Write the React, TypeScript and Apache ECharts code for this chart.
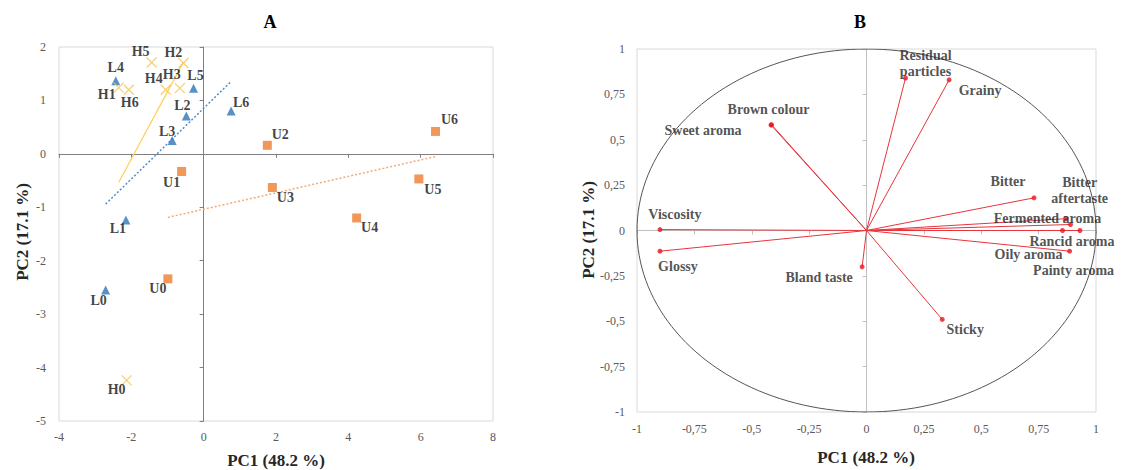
import React, { useEffect, useRef } from 'react';
import * as echarts from 'echarts';

// ---------- Panel A: PCA scores ----------
const L_NAMES = ['L0', 'L1', 'L2', 'L3', 'L4', 'L5', 'L6'];
const L_PC1 = [-2.71, -2.15, -0.48, -0.87, -2.43, -0.28, 0.76];
const L_PC2 = [-2.55, -1.24, 0.71, 0.25, 1.37, 1.23, 0.8];

const U_NAMES = ['U0', 'U1', 'U2', 'U3', 'U4', 'U5', 'U6'];
const U_PC1 = [-0.99, -0.61, 1.76, 1.9, 4.23, 5.95, 6.41];
const U_PC2 = [-2.34, -0.33, 0.16, -0.63, -1.2, -0.47, 0.42];

const H_NAMES = ['H0', 'H1', 'H2', 'H3', 'H4', 'H5', 'H6'];
const H_PC1 = [-2.13, -2.35, -0.56, -0.66, -1.05, -1.44, -2.07];
const H_PC2 = [-4.24, 1.24, 1.7, 1.23, 1.2, 1.71, 1.2];

const A_X_TICKS = { min: -4, max: 8, interval: 2 };
const A_Y_TICKS = { min: -5, max: 2, interval: 1 };

// ---------- Panel B: loadings ----------
const VAR_NAMES = [
  'Residual\nparticles', 'Grainy', 'Brown colour', 'Sweet aroma', 'Viscosity', 'Glossy',
  'Bland taste', 'Sticky', 'Bitter', 'Bitter\naftertaste', 'Fermented aroma',
  'Rancid aroma', 'Oily aroma', 'Painty aroma',
];
const VAR_PC1 = [0.17, 0.36, -0.414, -0.416, -0.9, -0.9, -0.019, 0.33, 0.73, 0.868, 0.889, 0.93, 0.854, 0.885];
const VAR_PC2 = [0.84, 0.83, 0.583, 0.581, 0.005, -0.114, -0.2, -0.49, 0.18, 0.065, 0.033, 0.0, 0.0, -0.114];

const B_TICKS = { min: -1, max: 1, interval: 0.25 };

// label offsets (pixels, label centre relative to the marker)
const A_LABEL_OFFSETS: Record<string, [number, number]> = {
  L0: [-7, 10], L1: [-8, 8], L2: [-4, -10], L3: [-5, -9], L4: [0, -13], L5: [2, -13], L6: [10, -9],
  U0: [-10, 10], U1: [-10, 11], U2: [13, -11], U3: [13, 10], U4: [13, 10], U5: [14, 11], U6: [14, -12],
  H0: [-10, 9], H1: [-12, 7], H2: [-10, -11], H3: [-8, -14], H4: [-12, -11], H5: [-11, -11], H6: [1, 13],
};
const B_LABEL_OFFSETS: [number, number][] = [
  [20, -15], [31, 11], [-3, -15], [-68, 5], [15, -15], [18, 15], [-43, 11], [23, 10],
  [-26, -16], [14, -28], [-23, -6], [-8, 11], [-34, 24], [4, 19],
];

const SERIF = '"Liberation Serif", "Times New Roman", serif';

function regressionEnds(xs: number[], ys: number[]): number[][] {
  const n = xs.length;
  const mx = xs.reduce((a, b) => a + b, 0) / n;
  const my = ys.reduce((a, b) => a + b, 0) / n;
  let sxy = 0;
  let sxx = 0;
  for (let i = 0; i < n; i++) {
    sxy += (xs[i] - mx) * (ys[i] - my);
    sxx += (xs[i] - mx) * (xs[i] - mx);
  }
  const b = sxy / sxx;
  const a = my - b * mx;
  const x0 = Math.min(...xs);
  const x1 = Math.max(...xs);
  return [[x0, a + b * x0], [x1, a + b * x1]];
}

function scoreSeries(names: string[], xs: number[], ys: number[], symbol: string, size: number, itemStyle: any) {
  return {
    type: 'scatter',
    xAxisIndex: 0,
    yAxisIndex: 0,
    symbol,
    symbolSize: size,
    itemStyle,
    z: 5,
    data: names.map((n, i) => ({
      name: n,
      value: [xs[i], ys[i]],
      label: { offset: A_LABEL_OFFSETS[n] },
    })),
    label: {
      show: true,
      position: 'inside',
      formatter: (p: any) => p.name,
      fontFamily: SERIF,
      fontWeight: 'bold',
      fontSize: 14,
      color: '#111',
    },
  };
}

export default function App() {
  const ref = useRef<HTMLDivElement>(null);
  useEffect(() => {
    if (!ref.current) return;
    const chart = echarts.init(ref.current, null, { renderer: 'svg' });

    const circle: number[][] = [];
    for (let k = 0; k <= 360; k += 2) {
      const t = (k * Math.PI) / 180;
      circle.push([Math.cos(t), Math.sin(t)]);
    }

    const commaFmt = (v: number) => String(v).replace('.', ',');
    const tickLabel = { fontFamily: SERIF, fontSize: 12, color: '#595959' };

    const option: any = {
      animation: false,
      backgroundColor: '#fff',
      grid: [
        { left: 59, top: 47, width: 434, height: 374, show: true, borderColor: '#d9d9d9', borderWidth: 1 },
        { left: 637, top: 49, width: 459, height: 363, show: true, borderColor: '#d9d9d9', borderWidth: 1 },
      ],
      xAxis: [
        {
          type: 'value', gridIndex: 0, position: 'bottom', ...A_X_TICKS,
          axisLine: { show: false, onZero: false }, axisTick: { show: false }, splitLine: { show: false },
          axisLabel: { ...tickLabel, margin: 10 },
        },
        {
          type: 'value', gridIndex: 1, position: 'bottom', ...B_TICKS,
          axisLine: { show: false, onZero: false }, axisTick: { show: false }, splitLine: { show: false },
          axisLabel: { ...tickLabel, margin: 11, formatter: commaFmt },
        },
        {
          type: 'value', gridIndex: 0, position: 'bottom', ...A_X_TICKS,
          axisLine: { show: true, onZero: true, onZeroAxisIndex: 0, lineStyle: { color: '#7f7f7f', width: 1 } },
          axisTick: { show: true, length: 4, lineStyle: { color: '#7f7f7f' } },
          axisLabel: { show: false }, splitLine: { show: false },
        },
        {
          type: 'value', gridIndex: 1, position: 'bottom', ...B_TICKS,
          axisLine: { show: true, onZero: true, onZeroAxisIndex: 1, lineStyle: { color: '#bfbfbf', width: 1 } },
          axisTick: { show: true, length: 4, lineStyle: { color: '#bfbfbf' } },
          axisLabel: { show: false }, splitLine: { show: false },
        },
      ],
      yAxis: [
        {
          type: 'value', gridIndex: 0, position: 'left', ...A_Y_TICKS,
          axisLine: { show: false, onZero: false }, axisTick: { show: false }, splitLine: { show: false },
          axisLabel: { ...tickLabel, margin: 13 },
        },
        {
          type: 'value', gridIndex: 1, position: 'left', ...B_TICKS,
          axisLine: { show: false, onZero: false }, axisTick: { show: false }, splitLine: { show: false },
          axisLabel: { ...tickLabel, margin: 12, formatter: commaFmt },
        },
        {
          type: 'value', gridIndex: 0, position: 'left', ...A_Y_TICKS,
          axisLine: { show: true, onZero: true, onZeroAxisIndex: 0, lineStyle: { color: '#7f7f7f', width: 1 } },
          axisTick: { show: true, length: 4, lineStyle: { color: '#7f7f7f' } },
          axisLabel: { show: false }, splitLine: { show: false },
        },
        {
          type: 'value', gridIndex: 1, position: 'left', ...B_TICKS,
          axisLine: { show: true, onZero: true, onZeroAxisIndex: 1, lineStyle: { color: '#bfbfbf', width: 1 } },
          axisTick: { show: true, length: 4, lineStyle: { color: '#bfbfbf' } },
          axisLabel: { show: false }, splitLine: { show: false },
        },
      ],
      graphic: [
        { type: 'text', x: 270, y: 22, style: { text: 'A', font: `bold 18px ${SERIF}`, fill: '#000', textAlign: 'center', textVerticalAlign: 'middle', align: 'center', verticalAlign: 'middle' } },
        { type: 'text', x: 860, y: 22, style: { text: 'B', font: `bold 18px ${SERIF}`, fill: '#000', textAlign: 'center', textVerticalAlign: 'middle', align: 'center', verticalAlign: 'middle' } },
        { type: 'text', x: 276, y: 460, style: { text: 'PC1 (48.2 %)', font: `bold 17px ${SERIF}`, fill: '#262626', textAlign: 'center', textVerticalAlign: 'middle', align: 'center', verticalAlign: 'middle' } },
        { type: 'text', x: 866, y: 457, style: { text: 'PC1 (48.2 %)', font: `bold 17px ${SERIF}`, fill: '#262626', textAlign: 'center', textVerticalAlign: 'middle', align: 'center', verticalAlign: 'middle' } },
        { type: 'text', x: 22, y: 232, rotation: Math.PI / 2, style: { text: 'PC2 (17.1 %)', font: `bold 17px ${SERIF}`, fill: '#262626', textAlign: 'center', textVerticalAlign: 'middle', align: 'center', verticalAlign: 'middle' } },
        { type: 'text', x: 588, y: 230, rotation: Math.PI / 2, style: { text: 'PC2 (17.1 %)', font: `bold 17px ${SERIF}`, fill: '#262626', textAlign: 'center', textVerticalAlign: 'middle', align: 'center', verticalAlign: 'middle' } },
      ],
      series: [
        // trend lines (linear regression of each group)
        {
          type: 'line', xAxisIndex: 0, yAxisIndex: 0, data: regressionEnds(H_PC1, H_PC2), symbol: 'none',
          lineStyle: { color: '#ffd25e', width: 1.3 }, z: 3,
        },
        {
          type: 'line', xAxisIndex: 0, yAxisIndex: 0, data: regressionEnds(L_PC1, L_PC2), symbol: 'none',
          lineStyle: { color: '#4f8fd0', width: 1.5, type: [2, 2] }, z: 3,
        },
        {
          type: 'line', xAxisIndex: 0, yAxisIndex: 0, data: regressionEnds(U_PC1, U_PC2), symbol: 'none',
          lineStyle: { color: '#f4a97a', width: 1.5, type: [2, 2] }, z: 3,
        },
        scoreSeries(L_NAMES, L_PC1, L_PC2, 'triangle', 9, { color: '#2e75b6' }),
        scoreSeries(U_NAMES, U_PC1, U_PC2, 'rect', 9, { color: '#ed7d31' }),
        scoreSeries(H_NAMES, H_PC1, H_PC2, 'path://M0,0L10,10M0,10L10,0', 10, {
          color: 'rgba(0,0,0,0)', borderColor: '#f5c451', borderWidth: 1.3,
        }),
        // correlation circle
        {
          type: 'line', xAxisIndex: 1, yAxisIndex: 1, data: circle, symbol: 'none',
          lineStyle: { color: '#555', width: 1 }, z: 2,
        },
        // loading vectors
        {
          type: 'lines', coordinateSystem: 'cartesian2d', xAxisIndex: 1, yAxisIndex: 1,
          data: VAR_NAMES.map((_, i) => ({ coords: [[0, 0], [VAR_PC1[i], VAR_PC2[i]]] })),
          lineStyle: { color: '#e8353c', width: 1, opacity: 1 }, z: 3,
        },
        {
          type: 'scatter', xAxisIndex: 1, yAxisIndex: 1, symbol: 'circle', symbolSize: 5,
          itemStyle: { color: '#e8141c' }, z: 5,
          data: VAR_NAMES.map((n, i) => ({
            name: n,
            value: [VAR_PC1[i], VAR_PC2[i]],
            label: { offset: B_LABEL_OFFSETS[i] },
          })),
          label: {
            show: true, position: 'inside', formatter: (p: any) => p.name,
            fontFamily: SERIF, fontWeight: 'bold', fontSize: 14, color: '#262626', align: 'center', lineHeight: 16,
          },
        },
      ],
    };
    chart.setOption(option);
    return () => chart.dispose();
  }, []);
  return <div ref={ref} style={{ position: 'fixed', left: 0, top: 0, width: 1122, height: 470 }} />;
}
